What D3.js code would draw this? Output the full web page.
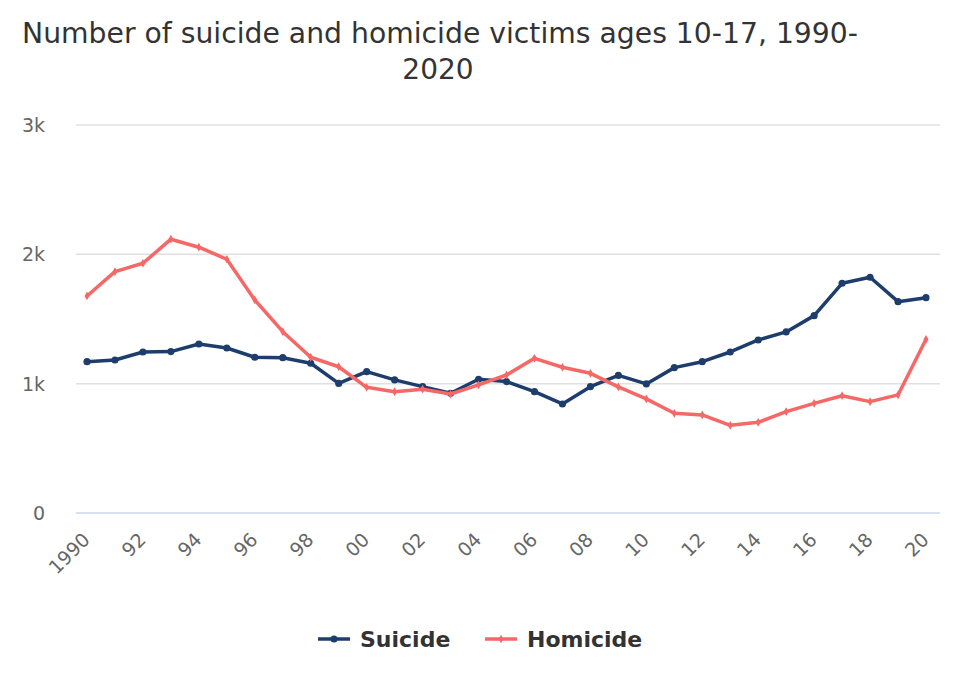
<!DOCTYPE html>
<html>
<head>
<meta charset="utf-8">
<script src="https://cdn.jsdelivr.net/npm/d3@7"></script>
<style>
  body { margin: 0; background: #fff; }
  svg { display: block; }
</style>
</head>
<body>
<svg width="960" height="700"></svg>
<script>
// years 1990..2020
const YEARS = d3.range(1990, 2021);
const SUICIDE = [1170, 1183, 1245, 1248, 1307, 1276, 1204, 1201, 1158, 1002,
  1093, 1029, 977, 926, 1034, 1016, 938, 843, 977, 1064,
  998, 1124, 1170, 1245, 1338, 1400, 1526, 1776, 1823, 1634, 1665];
const HOMICIDE = [1678, 1866, 1931, 2117, 2055, 1962, 1647, 1402, 1204, 1131,
  972, 938, 957, 920, 990, 1067, 1196, 1127, 1080, 975,
  882, 771, 758, 678, 701, 784, 848, 907, 861, 913, 1343];
const Y_TICKS = [0, 1000, 2000, 3000];
const X_TICKS = d3.range(1990, 2021, 2);

const svg = d3.select('svg');
const x = d3.scaleLinear().domain([1990, 2020]).range([87, 926]);
const y = d3.scaleLinear().domain([0, 3000]).range([513, 125]);

// title
const title = svg.append('text')
  .attr('text-anchor', 'middle')
  .attr('fill', '#333')
  .style('font-family', '"DejaVu Sans", sans-serif')
  .style('font-size', '28px');
title.append('tspan').attr('x', 440).attr('y', 43)
  .attr('textLength', 836).attr('lengthAdjust', 'spacingAndGlyphs')
  .text('Number of suicide and homicide victims ages 10-17, 1990-');
title.append('tspan').attr('x', 438).attr('y', 79).text('2020');

// gridlines
svg.append('g').selectAll('line')
  .data(Y_TICKS.filter(d => d > 0))
  .enter().append('line')
  .attr('x1', 76).attr('x2', 940)
  .attr('y1', d => y(d)).attr('y2', d => y(d))
  .attr('stroke', '#e0e0e0').attr('stroke-width', 1.5);

// bottom axis line
svg.append('line')
  .attr('x1', 76).attr('x2', 940)
  .attr('y1', y(0)).attr('y2', y(0))
  .attr('stroke', '#ccd6eb').attr('stroke-width', 1.5);

// y labels
svg.append('g').selectAll('text')
  .data(Y_TICKS)
  .enter().append('text')
  .attr('x', 45)
  .attr('y', d => y(d) + 7)
  .attr('text-anchor', 'end')
  .attr('fill', '#666')
  .style('font-family', '"DejaVu Sans", sans-serif')
  .style('font-size', '19px')
  .text(d => d === 0 ? '0' : (d / 1000) + 'k');

// x labels
svg.append('g').selectAll('text')
  .data(X_TICKS)
  .enter().append('text')
  .attr('text-anchor', 'end')
  .attr('transform', d => `translate(${x(d) + 4},${541}) rotate(-45)`)
  .attr('fill', '#666')
  .style('font-family', '"DejaVu Sans", sans-serif')
  .style('font-size', '19px')
  .text(d => d === 1990 ? '1990' : String(d).slice(2));

const line = d3.line().x((d, i) => x(YEARS[i])).y(d => y(d));

const series = [
  { name: 'Suicide', data: SUICIDE, color: '#1d3e6c', marker: 'circle' },
  { name: 'Homicide', data: HOMICIDE, color: '#f56866', marker: 'diamond' }
];

series.forEach(s => {
  svg.append('path')
    .datum(s.data)
    .attr('d', line)
    .attr('fill', 'none')
    .attr('stroke', s.color)
    .attr('stroke-width', 3.5)
    .attr('stroke-linejoin', 'round');

  const sym = d3.symbol()
    .type(s.marker === 'circle' ? d3.symbolCircle : d3.symbolDiamond)
    .size(s.marker === 'circle' ? 40 : 22);
  svg.append('g').selectAll('path')
    .data(s.data)
    .enter().append('path')
    .attr('d', sym)
    .attr('transform', (d, i) => `translate(${x(YEARS[i])},${y(d)})`)
    .attr('fill', s.color);
});

// legend
const legend = svg.append('g');
const legendX = [318, 485];
series.forEach((s, i) => {
  const g = legend.append('g').attr('transform', `translate(${legendX[i]},639)`);
  g.append('line').attr('x1', 0).attr('x2', 32).attr('y1', 0).attr('y2', 0)
    .attr('stroke', s.color).attr('stroke-width', 3.5);
  g.append('path')
    .attr('d', d3.symbol().type(s.marker === 'circle' ? d3.symbolCircle : d3.symbolDiamond)
      .size(s.marker === 'circle' ? 40 : 22))
    .attr('transform', 'translate(16,0)')
    .attr('fill', s.color);
  g.append('text')
    .attr('x', 42).attr('y', 8)
    .attr('fill', '#333')
    .style('font-family', '"DejaVu Sans", sans-serif')
    .style('font-weight', 'bold')
    .style('font-size', '22px')
    .text(s.name);
});
</script>
</body>
</html>
